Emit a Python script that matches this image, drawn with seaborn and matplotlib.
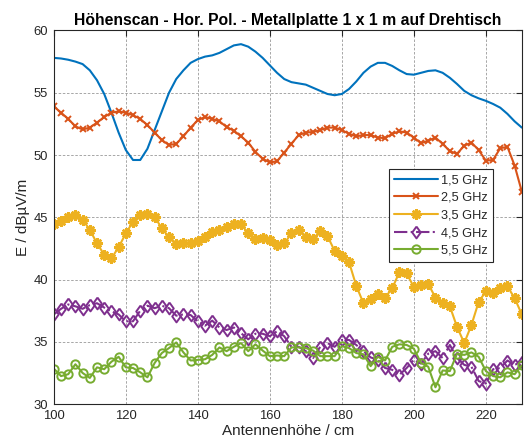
import numpy as np
import pandas as pd
import matplotlib
matplotlib.use("Agg")
import matplotlib.pyplot as plt
import seaborn as sns

# ---- data ----
hoehe = list(range(100, 231, 2))  # antenna height in cm

e_1_5 = [57.8, 57.75, 57.65, 57.5, 57.3, 56.8, 56.0, 54.9, 53.4, 51.8,
         50.4, 49.6, 49.6, 50.5, 52.0, 53.5, 55.0, 56.1, 56.8, 57.4,
         57.7, 57.9, 58.0, 58.2, 58.5, 58.8, 58.9, 58.7, 58.3, 57.8,
         57.2, 56.6, 56.1, 55.85, 55.75, 55.65, 55.4, 55.15, 54.9, 54.8,
         54.9, 55.3, 55.9, 56.6, 57.1, 57.4, 57.4, 57.15, 56.8, 56.5,
         56.45, 56.6, 56.75, 56.8, 56.6, 56.2, 55.7, 55.15, 54.8, 54.55,
         54.35, 54.1, 53.8, 53.3, 52.7, 52.2]

e_2_5 = [53.9, 53.4, 52.9, 52.3, 52.05, 52.2, 52.6, 53.05, 53.4, 53.5,
         53.4, 53.2, 52.9, 52.4, 51.8, 51.2, 50.8, 50.9, 51.5, 52.2,
         52.8, 53.05, 52.9, 52.7, 52.25, 51.95, 51.5, 51.0, 50.25, 49.7,
         49.4, 49.5, 50.2, 50.9, 51.6, 51.8, 51.85, 52.0, 52.2, 52.2,
         52.0, 51.7, 51.5, 51.6, 51.6, 51.4, 51.35, 51.7, 51.9, 51.8,
         51.4, 50.95, 51.15, 51.4, 50.9, 50.3, 50.1, 50.75, 51.0, 50.4,
         49.55, 49.6, 50.55, 50.65, 49.15, 47.05]

e_3_5 = [44.45, 44.7, 45.0, 45.15, 44.8, 44.0, 42.9, 42.0, 41.7, 42.6,
         43.7, 44.65, 45.2, 45.3, 45.05, 44.1, 43.4, 42.85, 42.9, 42.95,
         43.1, 43.45, 43.8, 44.0, 44.25, 44.5, 44.45, 43.7, 43.25, 43.3,
         43.2, 42.75, 42.9, 43.7, 43.95, 43.4, 43.25, 43.9, 43.5, 42.3,
         41.9, 41.4, 39.5, 38.1, 38.4, 38.8, 38.55, 39.3, 40.6, 40.5,
         39.4, 39.55, 39.65, 38.55, 38.15, 37.85, 36.2, 34.9, 36.35, 38.2,
         39.05, 38.95, 39.35, 39.45, 38.5, 37.2]

e_4_5 = [37.2, 37.65, 38.0, 37.85, 37.65, 37.95, 38.1, 37.75, 37.45, 37.2,
         36.65, 36.65, 37.5, 37.9, 37.7, 37.9, 37.7, 37.1, 37.2, 37.15,
         36.65, 36.3, 36.7, 36.15, 35.95, 36.15, 35.7, 35.2, 35.65, 35.65,
         35.45, 35.85, 35.45, 34.6, 34.6, 34.25, 33.7, 34.6, 34.9, 34.6,
         35.15, 35.15, 34.75, 34.25, 33.75, 33.55, 32.9, 32.75, 32.35, 32.9,
         33.55, 33.25, 34.05, 34.25, 33.7, 34.75, 33.7, 33.15, 33.0, 31.85,
         31.65, 32.8, 32.9, 33.5, 33.15, 33.4]

e_5_5 = [32.85, 32.25, 32.4, 33.2, 32.5, 32.1, 32.95, 32.8, 33.4, 33.8,
         32.95, 32.9, 32.55, 32.15, 33.3, 34.1, 34.5, 34.95, 34.15, 33.5,
         33.55, 33.6, 33.95, 34.55, 34.25, 34.6, 34.9, 34.25, 34.8, 34.3,
         33.85, 33.9, 33.85, 34.55, 34.55, 34.5, 34.3, 33.85, 33.85, 33.85,
         34.65, 34.5, 34.1, 34.0, 33.05, 33.8, 33.5, 34.6, 34.8, 34.75,
         34.45, 33.3, 33.0, 31.35, 32.7, 32.65, 34.05, 33.95, 34.15, 33.8,
         32.65, 32.25, 32.15, 32.55, 32.4, 33.1]

labels = ["1,5 GHz", "2,5 GHz", "3,5 GHz", "4,5 GHz", "5,5 GHz"]
series = [e_1_5, e_2_5, e_3_5, e_4_5, e_5_5]

title = "Höhenscan - Hor. Pol. - Metallplatte 1 x 1 m auf Drehtisch"
xlabel = "Antennenhöhe / cm"
ylabel = "E / dBµV/m"
xticks = [100, 120, 140, 160, 180, 200, 220]
yticks = [30, 35, 40, 45, 50, 55, 60]

# ---- style ----
sns.set_theme(style="white")
plt.rcParams["font.family"] = ["Liberation Sans", "DejaVu Sans"]
plt.rcParams["axes.unicode_minus"] = False

colors = ["#0072BD", "#D95319", "#EDB120", "#7E2F8E", "#77AC30"]
diamond = [(0, 1), (0.72, 0), (0, -1), (-0.72, 0), (0, 1)]
styles = [
    dict(marker=None, linestyle="-"),
    dict(marker="x", markersize=5, markeredgewidth=1.4, linestyle="-"),
    dict(marker=(8, 2, 0), markersize=7.5, markeredgewidth=1.8, linestyle="-"),
    dict(marker=diamond, markersize=8.5, markeredgewidth=1.4, linestyle="-.",
         markerfacecolor="none"),
    dict(marker="o", markersize=6, markeredgewidth=1.4, linestyle="-",
         markerfacecolor="none"),
]

fig = plt.figure(figsize=(5.25, 4.48), dpi=100)
ax = fig.add_axes([0.1025, 0.098, 0.8915, 0.834])

for lab, vals, col, st in zip(labels, series, colors, styles):
    df = pd.DataFrame({"h": hoehe, "E": vals})
    kw = dict(st)
    kw.setdefault("markeredgecolor", col)
    sns.lineplot(data=df, x="h", y="E", ax=ax, color=col, linewidth=1.5,
                 label=lab, **kw)

ax.set_xlim(100, 230)
ax.set_ylim(30, 60)
ax.set_xticks(xticks)
ax.set_yticks(yticks)
ax.tick_params(direction="in", length=4, width=0.8, labelsize=9.4,
               colors="#262626", top=True, right=True, pad=4)
for sp in ax.spines.values():
    sp.set_color("#262626")
    sp.set_linewidth(0.8)
ax.grid(True, color="#7f7f7f", linestyle=(0, (3, 2)), linewidth=0.6, alpha=0.8)
ax.set_axisbelow(True)

ax.set_title(title, fontsize=11.3, fontweight="bold", color="black", pad=4)
ax.set_xlabel(xlabel, fontsize=11, color="#262626", labelpad=2)
ax.set_ylabel(ylabel, fontsize=11, color="#262626", labelpad=3)

leg = ax.legend(loc="upper right", bbox_to_anchor=(0.939, 0.629),
                fontsize=9.2, frameon=True, fancybox=False, framealpha=1,
                edgecolor="#262626", handlelength=3.4, labelspacing=0.44,
                borderpad=0.4, handletextpad=0.3, borderaxespad=0)
leg.get_frame().set_linewidth(0.8)

fig.savefig("out.png", dpi=100)
